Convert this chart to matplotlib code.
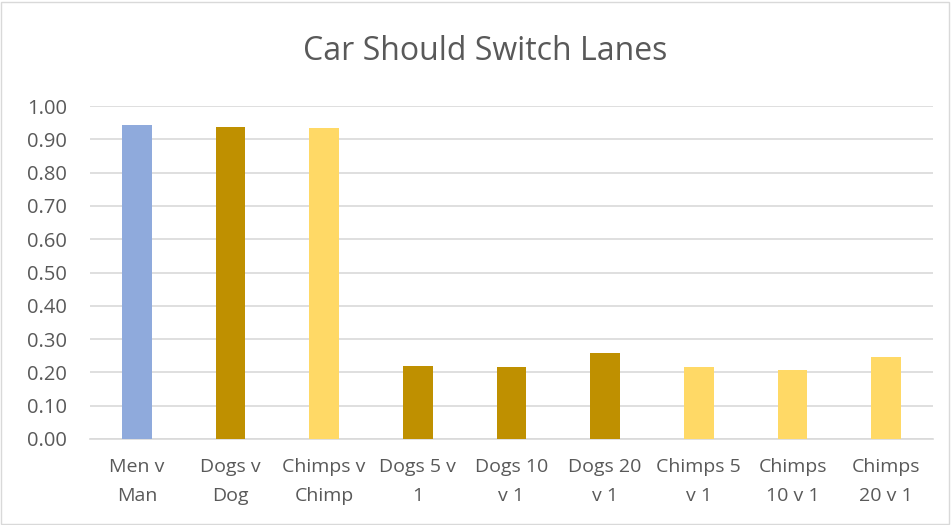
import numpy as np
import matplotlib.pyplot as plt

plt.rcParams['font.family'] = ['Open Sans', 'DejaVu Sans']

categories = ['Men v\nMan', 'Dogs v\nDog', 'Chimps v\nChimp', 'Dogs 5 v\n1', 'Dogs 10\nv 1',
              'Dogs 20\nv 1', 'Chimps 5\nv 1', 'Chimps\n10 v 1', 'Chimps\n20 v 1']
values = [0.943, 0.937, 0.934, 0.219, 0.216, 0.258, 0.215, 0.207, 0.246]
colors = ['#8FAADC', '#BF9000', '#FFD966', '#BF9000', '#BF9000', '#BF9000',
          '#FFD966', '#FFD966', '#FFD966']
yticks = np.arange(0, 1.01, 0.1)

txt = '#595959'
fig = plt.figure(figsize=(9.51, 5.25), dpi=100)
ax = fig.add_axes([90 / 951, 1 - 439 / 525, 843 / 951, 333 / 525])

x = np.arange(len(categories))
ax.bar(x, values, width=0.32, color=colors, zorder=3)

ax.set_xlim(-0.5, len(categories) - 0.5)
ax.set_ylim(0, 1.0)
ax.set_yticks(yticks)
ax.set_yticklabels([f'{v:.2f}' for v in yticks])
ax.set_xticks(x)
ax.set_xticklabels(categories, linespacing=1.75)
ax.tick_params(axis='both', length=0, labelcolor=txt)
ax.tick_params(axis='y', pad=16.5, labelsize=14.5)
ax.tick_params(axis='x', pad=14, labelsize=14)
ax.grid(axis='y', color='#D9D9D9', linewidth=1.2, zorder=0)
for s in ['top', 'right', 'left']:
    ax.spines[s].set_visible(False)
ax.spines['bottom'].set_color('#D9D9D9')
ax.spines['bottom'].set_linewidth(1.2)

fig.text(485 / 951, 1 - 51 / 525, 'Car Should Switch Lanes', ha='center', va='center',
         fontsize=23, color=txt)

# thin border around the whole chart
fig.patches.append(plt.Rectangle((0.001, 0.002), 0.997, 0.995, transform=fig.transFigure,
                                 fill=False, edgecolor='#D9D9D9', linewidth=1))

fig.savefig('out.png', dpi=100)
